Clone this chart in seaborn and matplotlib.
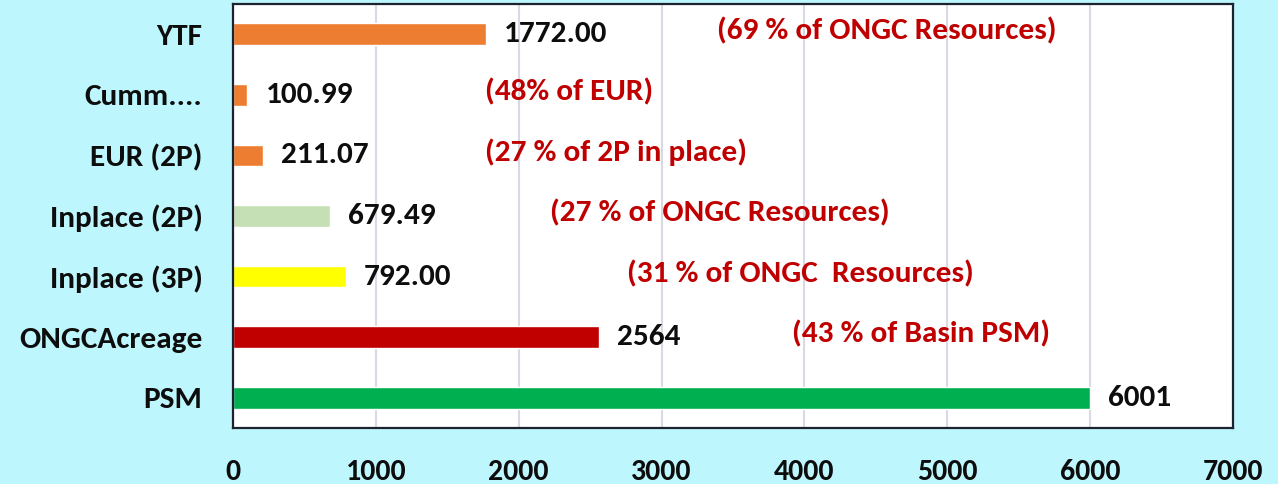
import pandas as pd
import matplotlib.pyplot as plt
import seaborn as sns

# Chart data
categories = ["YTF", "Cumm....", "EUR (2P)", "Inplace (2P)", "Inplace (3P)", "ONGCAcreage", "PSM"]
values = [1772.00, 100.99, 211.07, 679.49, 792.00, 2564, 6001]
value_labels = ["1772.00", "100.99", "211.07", "679.49", "792.00", "2564", "6001"]
bar_colors = ["#ED7D31", "#ED7D31", "#ED7D31", "#C5E0B4", "#FFFF00", "#C00000", "#00B050"]
notes = ["(69 % of ONGC Resources)", "(48% of EUR)", "(27 % of 2P in place)",
         "(27 % of ONGC Resources)", "(31 % of ONGC  Resources)", "(43 % of Basin PSM)", ""]
note_x = [3385, 1765, 1765, 2220, 2760, 3910, 0]
xticks = [0, 1000, 2000, 3000, 4000, 5000, 6000, 7000]

df = pd.DataFrame({"category": categories, "value": values})

sns.set_style("white")
plt.rcParams["font.family"] = ["Carlito", "DejaVu Sans"]
plt.rcParams["font.weight"] = "bold"

bg = "#BDF6FC"
fig = plt.figure(figsize=(12.78, 4.84), dpi=100, facecolor=bg)
ax = fig.add_axes([0.1823, 0.1157, 0.7825, 0.876])
ax.set_facecolor("white")

sns.barplot(data=df, x="value", y="category", hue="category", palette=bar_colors,
            width=0.36, legend=False, ax=ax, saturation=1)

# value labels, sitting a touch below bar centre like the original
for cont, lab in zip(ax.containers, value_labels):
    txts = ax.bar_label(cont, labels=[lab], padding=13, fontsize=22.5, fontweight="bold",
                        color="#0D0D0D")
    for t in txts:
        t.set_y(t.get_position()[1] + 0.03)

# red notes
for i, (txt, nx) in enumerate(zip(notes, note_x)):
    if txt:
        ax.text(nx, i - 0.05, txt, color="#C00000", fontsize=22.5, fontweight="bold",
                va="center", ha="left")

ax.set_xlim(0, 7000)
ax.set_ylim(6.5, -0.5)
ax.set_xticks(xticks)
ax.set_xticklabels([str(t) for t in xticks])
ax.xaxis.grid(True, color="#D9D9E4", linewidth=1.5)
ax.set_axisbelow(True)
ax.tick_params(axis="x", length=0, pad=22, labelsize=21.5, labelcolor="#0D0D0D")
ax.tick_params(axis="y", length=0, pad=22, labelsize=22.5, labelcolor="#0D0D0D")
for lab in ax.get_xticklabels() + ax.get_yticklabels():
    lab.set_fontweight("bold")
ax.set_xlabel("")
ax.set_ylabel("")
for s in ax.spines.values():
    s.set_visible(True)
    s.set_color("#1C2230")
    s.set_linewidth(1.6)

fig.savefig("out.png", dpi=100, facecolor=bg)
